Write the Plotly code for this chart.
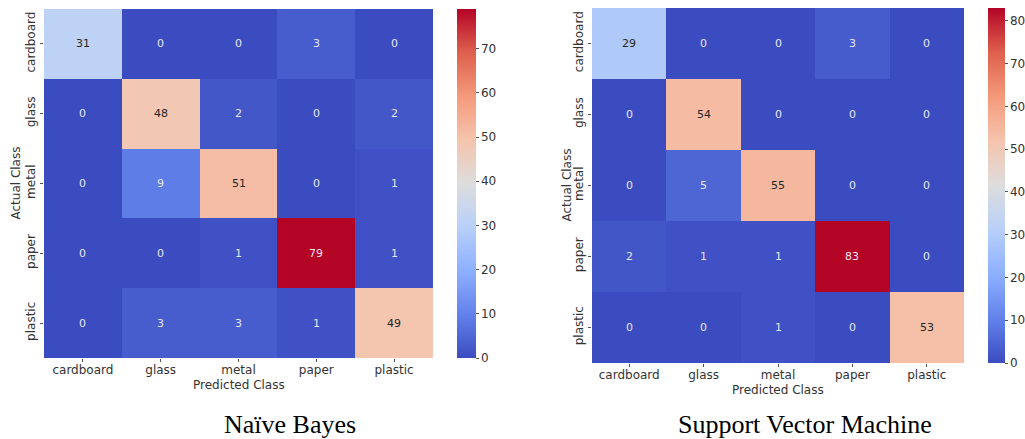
import plotly.graph_objects as go

classes = ["cardboard", "glass", "metal", "paper", "plastic"]

nb_matrix = [
    [31, 0, 0, 3, 0],
    [0, 48, 2, 0, 2],
    [0, 9, 51, 0, 1],
    [0, 0, 1, 79, 1],
    [0, 3, 3, 1, 49],
]
svm_matrix = [
    [29, 0, 0, 3, 0],
    [0, 54, 0, 0, 0],
    [0, 5, 55, 0, 0],
    [2, 1, 1, 83, 0],
    [0, 0, 1, 0, 53],
]
titles = ["Naïve Bayes", "Support Vector Machine"]

coolwarm = [
    [0.0, "rgb(59,76,192)"],
    [0.125, "rgb(98,130,234)"],
    [0.25, "rgb(141,176,254)"],
    [0.375, "rgb(184,208,249)"],
    [0.5, "rgb(221,221,221)"],
    [0.625, "rgb(245,196,173)"],
    [0.75, "rgb(244,154,123)"],
    [0.875, "rgb(222,96,77)"],
    [1.0, "rgb(180,4,38)"],
]

W, H = 1025, 439
FONT = "DejaVu Sans"
TXT = "#333333"

panels = [
    dict(m=nb_matrix, x0=44, x1=433, y0=9, y1=358, cb0=457, cbw=19, xa="x", ya="y",
         ytitle_x=15, xtitle_y=385, cap_x=290),
    dict(m=svm_matrix, x0=592, x1=964, y0=8, y1=363, cb0=988, cbw=17, xa="x2", ya="y2",
         ytitle_x=566, xtitle_y=390, cap_x=805),
]

fig = go.Figure()
annotations = []
layout_axes = {}
for i, p in enumerate(panels):
    m = p["m"]
    zmax = max(max(r) for r in m)
    fig.add_trace(go.Heatmap(
        z=m, x=classes, y=classes, xaxis=p["xa"], yaxis=p["ya"],
        colorscale=coolwarm, zmin=0, zmax=zmax,
        hoverinfo="skip",
        colorbar=dict(
            x=p["cb0"] / W, xanchor="left", xref="paper",
            y=1 - p["y1"] / H, yanchor="bottom",
            len=(p["y1"] - p["y0"]) / H, lenmode="fraction",
            thickness=p["cbw"], thicknessmode="pixels",
            xpad=0, ypad=0,
            outlinewidth=0, ticks="outside", ticklen=3, tickcolor="#555",
            dtick=10, tick0=0,
            tickfont=dict(family=FONT, size=12, color=TXT),
        ),
    ))
    for r, row in enumerate(m):
        for c, v in enumerate(row):
            frac = v / zmax
            col = "#262626" if 0.25 < frac < 0.75 else "#e6e6ee"
            annotations.append(dict(
                x=classes[c], y=classes[r], xref=p["xa"], yref=p["ya"],
                text=str(v), showarrow=False, xanchor="center", yanchor="middle",
                font=dict(family=FONT, size=11, color=col),
            ))
    suffix = "" if i == 0 else "2"
    layout_axes["xaxis" + suffix] = dict(
        domain=[p["x0"] / W, p["x1"] / W], anchor=p["ya"], automargin=False,
        showgrid=False, zeroline=False, ticks="outside", ticklen=3, tickcolor="#555",
        ticklabelstandoff=-2,
        tickfont=dict(family=FONT, size=12, color=TXT), showline=False,
    )
    layout_axes["yaxis" + suffix] = dict(
        domain=[1 - p["y1"] / H, 1 - p["y0"] / H], anchor=p["xa"], automargin=False,
        autorange="reversed", showgrid=False, zeroline=False,
        ticks="outside", ticklen=3, tickcolor="#555", tickangle=-90,
        tickfont=dict(family=FONT, size=12, color=TXT), showline=False,
    )
    annotations.append(dict(
        x=p["ytitle_x"] / W, y=1 - ((p["y0"] + p["y1"]) / 2) / H, xref="paper", yref="paper",
        text="Actual Class", textangle=-90, showarrow=False,
        xanchor="center", yanchor="middle",
        font=dict(family=FONT, size=12, color=TXT),
    ))
    annotations.append(dict(
        x=((p["x0"] + p["x1"]) / 2) / W, y=1 - p["xtitle_y"] / H, xref="paper", yref="paper",
        text="Predicted Class", showarrow=False,
        xanchor="center", yanchor="middle",
        font=dict(family=FONT, size=12, color=TXT),
    ))
    annotations.append(dict(
        x=p["cap_x"] / W, y=1 - 424 / H, xref="paper", yref="paper",
        text=titles[i], showarrow=False,
        xanchor="center", yanchor="middle",
        font=dict(family="Liberation Serif", size=26, color="black"),
    ))

fig.update_layout(
    width=W, height=H, margin=dict(l=0, r=0, t=0, b=0, autoexpand=False),
    paper_bgcolor="white", plot_bgcolor="white",
    annotations=annotations, showlegend=False,
    **layout_axes,
)
fig.write_html(
    "out.html",
    config={"displayModeBar": False},
    post_script="document.body.style.margin='0';document.body.style.overflow='hidden';",
)
